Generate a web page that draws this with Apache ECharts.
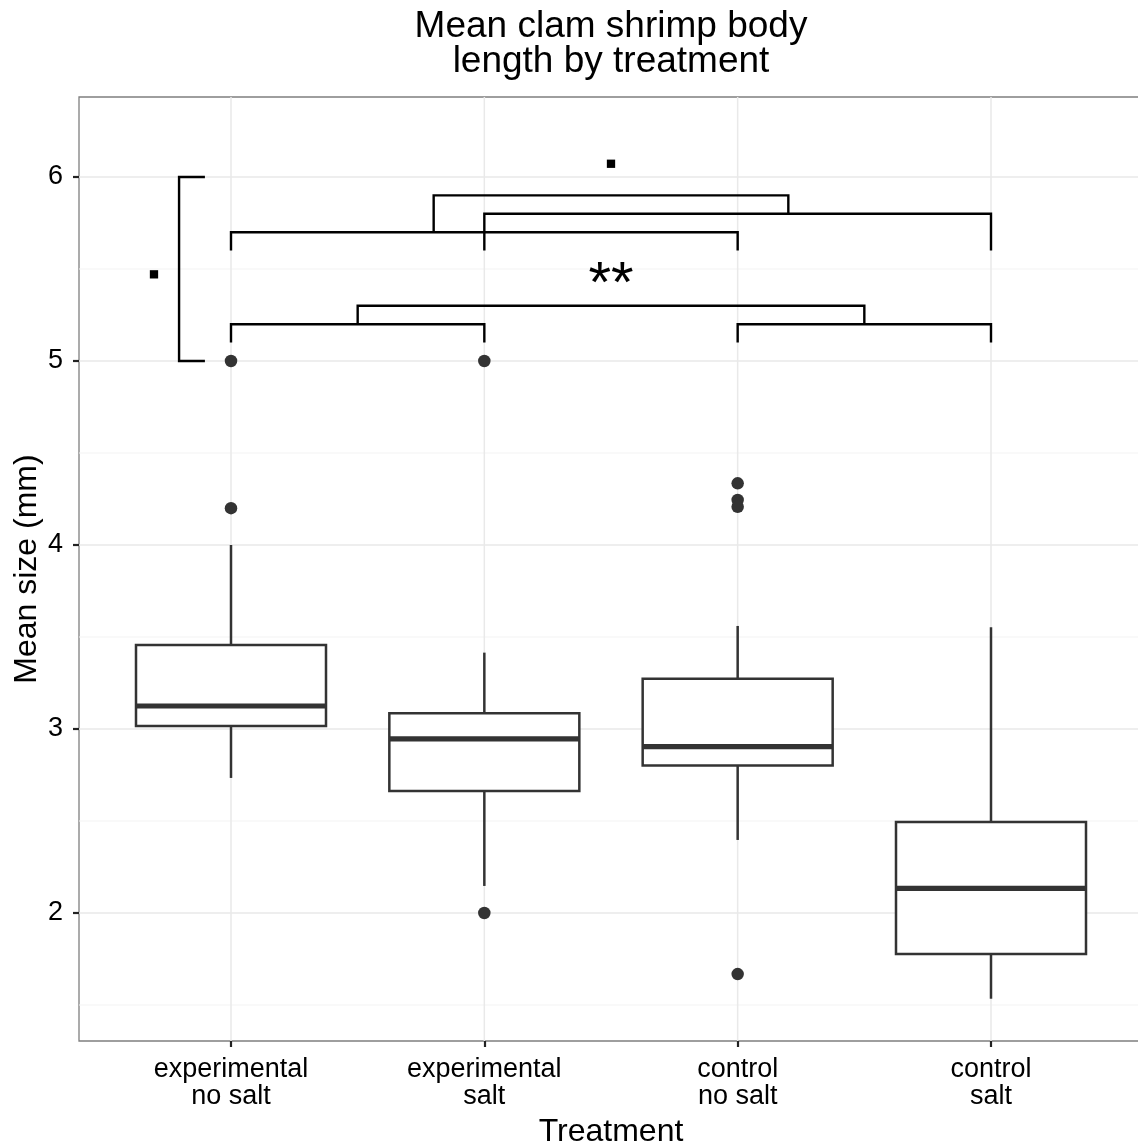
<!DOCTYPE html>
<html><head><meta charset="utf-8">
<script src="https://cdn.jsdelivr.net/npm/echarts@6/dist/echarts.min.js"></script>
<style>html,body{margin:0;padding:0;background:#fff}#c{width:1138px;height:1147px}</style>
</head><body><div id="c"></div>
<script>
const FONT = '"Liberation Sans", Arial, Helvetica, sans-serif';

const categories = ['experimental\nno salt', 'experimental\nsalt', 'control\nno salt', 'control\nsalt'];
const categoryPos = [1, 2, 3, 4];

const whiskerLow  = [2.734, 2.147, 2.397, 1.534];
const q1          = [3.016, 2.663, 2.801, 1.777];
const median      = [3.125, 2.946, 2.904, 2.134];
const q3          = [3.457, 3.085, 3.273, 2.495];
const whiskerHigh = [4.000, 3.415, 3.560, 3.553];

const outlierX = [1, 1, 2, 2, 3, 3, 3, 3];
const outlierY = [5.0, 4.2, 5.0, 2.0, 4.335, 4.245, 4.208, 1.668];

const yTicks = [2, 3, 4, 5, 6];
const yMinorTicks = [1.5, 2.5, 3.5, 4.5, 5.5];
const xRange = [0.4, 4.6];
const yRange = [1.3043, 6.4348];

// significance brackets (horizontal)
const bracketLeft     = [1,   2,   1.8, 1,   3,   1.5];
const bracketRight    = [3,   4,   3.2, 2,   4,   3.5];
const bracketTop      = [5.7, 5.8, 5.9, 5.2, 5.2, 5.3];
const bracketLeftEnd  = [5.6, 5.6, 5.7, 5.1, 5.1, 5.2];
const bracketRightEnd = [5.6, 5.6, 5.8, 5.1, 5.1, 5.2];

// side (vertical) bracket: x of spine, x of tips, y from, y to
const sideBracketX = [0.795];
const sideBracketTipX = [0.897];
const sideBracketLow = [5.0];
const sideBracketHigh = [6.0];

// significance labels
const sigLabelX = [0.696, 2.5, 2.5];
const sigLabelY = [5.471, 6.072, 5.41];
const sigLabelText = ['.', '.', '**'];

const chart = echarts.init(document.getElementById('c'), null, {renderer: 'canvas'});

const gridData = [];
yMinorTicks.forEach(v => gridData.push([1, v, 0]));
yTicks.forEach(v => gridData.push([1, v, 1]));
categoryPos.forEach(v => gridData.push([v, 2, 2]));

const boxData = categoryPos.map((x, i) => [x, whiskerLow[i], q1[i], median[i], q3[i], whiskerHigh[i]]);
const outlierData = outlierX.map((x, i) => [x, outlierY[i]]);
const bracketData = bracketLeft.map((l, i) => [l, bracketTop[i], bracketRight[i], bracketLeftEnd[i], bracketRightEnd[i]]);
const sideData = sideBracketX.map((x, i) => [x, sideBracketLow[i], sideBracketTipX[i], sideBracketHigh[i]]);
const labelData = sigLabelX.map((x, i) => [x, sigLabelY[i]]);

const option = {
  backgroundColor: '#fff',
  animation: false,
  title: {
    text: 'Mean clam shrimp body\nlength by treatment',
    left: 611, top: 9, padding: 0, textAlign: 'center',
    textStyle: {fontSize: 37, lineHeight: 35.5, fontWeight: 'normal', color: '#000', fontFamily: FONT}
  },
  grid: {left: 79, top: 97, width: 1064, height: 944, show: true, borderColor: '#7f7f7f', borderWidth: 1.3,
    backgroundColor: '#fff', containLabel: false, outerBoundsMode: 'none'},
  xAxis: {
    type: 'value', min: xRange[0], max: xRange[1],
    axisLine: {show: false}, splitLine: {show: false},
    axisTick: {show: true, length: 6, customValues: categoryPos, lineStyle: {color: '#222', width: 2.2}},
    axisLabel: {customValues: categoryPos, formatter: v => categories[Math.round(v) - 1], fontSize: 27, lineHeight: 27, color: '#000', fontFamily: FONT, margin: 15, align: 'center'},
    name: 'Treatment', nameLocation: 'middle', nameGap: 75, nameMoveOverlap: false,
    nameTextStyle: {fontSize: 32, color: '#000', fontFamily: FONT}
  },
  yAxis: {
    type: 'value', min: yRange[0], max: yRange[1],
    axisLine: {show: false}, splitLine: {show: false},
    axisTick: {show: true, length: 6, customValues: yTicks, lineStyle: {color: '#222', width: 2.2}},
    axisLabel: {customValues: yTicks, fontSize: 27, color: '#000', fontFamily: FONT, margin: 16},
    name: 'Mean size (mm)', nameLocation: 'middle', nameGap: 36, nameRotate: 90, nameMoveOverlap: false,
    nameTextStyle: {fontSize: 32, color: '#000', fontFamily: FONT}
  },
  series: [
    {
      type: 'custom', silent: true, z: 1, data: gridData,
      renderItem: function (params, api) {
        const cs = params.coordSys;
        const kind = api.value(2);
        if (kind < 2) {
          const y = api.coord([1, api.value(1)])[1];
          return {type: 'line', shape: {x1: cs.x, y1: y, x2: cs.x + cs.width, y2: y},
            style: {stroke: kind ? '#e9e9e9' : '#f3f3f3', lineWidth: kind ? 1.5 : 1.1}};
        }
        const x = api.coord([api.value(0), 2])[0];
        return {type: 'line', shape: {x1: x, y1: cs.y, x2: x, y2: cs.y + cs.height},
          style: {stroke: '#e9e9e9', lineWidth: 1.5}};
      }
    },
    {
      type: 'custom', silent: true, z: 2, data: boxData,
      renderItem: function (params, api) {
        const x = api.value(0);
        const pLo = api.coord([x, api.value(1)]);
        const pA = api.coord([x, api.value(2)]);
        const pM = api.coord([x, api.value(3)]);
        const pB = api.coord([x, api.value(4)]);
        const pHi = api.coord([x, api.value(5)]);
        const hw = api.size([0.75, 0])[0] / 2;
        const cx = pA[0];
        const stroke = '#333';
        return {type: 'group', children: [
          {type: 'line', shape: {x1: cx, y1: pHi[1], x2: cx, y2: pB[1]}, style: {stroke, lineWidth: 2.5}},
          {type: 'line', shape: {x1: cx, y1: pA[1], x2: cx, y2: pLo[1]}, style: {stroke, lineWidth: 2.5}},
          {type: 'rect', shape: {x: cx - hw, y: pB[1], width: 2 * hw, height: pA[1] - pB[1]}, style: {fill: '#fff', stroke, lineWidth: 2.5}},
          {type: 'line', shape: {x1: cx - hw, y1: pM[1], x2: cx + hw, y2: pM[1]}, style: {stroke, lineWidth: 5.2}}
        ]};
      }
    },
    {
      type: 'scatter', z: 3, silent: true, data: outlierData, symbol: 'circle', symbolSize: 12.5,
      itemStyle: {color: '#333', opacity: 1}
    },
    {
      type: 'custom', silent: true, z: 4, data: bracketData,
      renderItem: function (params, api) {
        const l = api.value(0), t = api.value(1), r = api.value(2), le = api.value(3), re = api.value(4);
        return {type: 'polyline', shape: {points: [api.coord([l, le]), api.coord([l, t]), api.coord([r, t]), api.coord([r, re])]},
          style: {stroke: '#000', lineWidth: 2.4, fill: null}};
      }
    },
    {
      type: 'custom', silent: true, z: 4, data: sideData,
      renderItem: function (params, api) {
        const x = api.value(0), lo = api.value(1), tip = api.value(2), hi = api.value(3);
        return {type: 'polyline', shape: {points: [api.coord([tip, hi]), api.coord([x, hi]), api.coord([x, lo]), api.coord([tip, lo])]},
          style: {stroke: '#000', lineWidth: 2.4, fill: null}};
      }
    },
    {
      type: 'custom', silent: true, z: 5, data: labelData,
      renderItem: function (params, api) {
        const p = api.coord([api.value(0), api.value(1)]);
        const txt = sigLabelText[params.dataIndex];
        if (txt === '.') {
          const s = 8.3;
          return {type: 'rect', shape: {x: p[0] - s / 2, y: p[1] - s / 2, width: s, height: s}, style: {fill: '#000'}};
        }
        return {type: 'text', x: p[0], y: p[1], style: {text: txt, fontSize: 58, fontFamily: FONT, fill: '#000', align: 'center', verticalAlign: 'middle'}};
      }
    }
  ]
};
chart.setOption(option);
</script>
</body></html>
